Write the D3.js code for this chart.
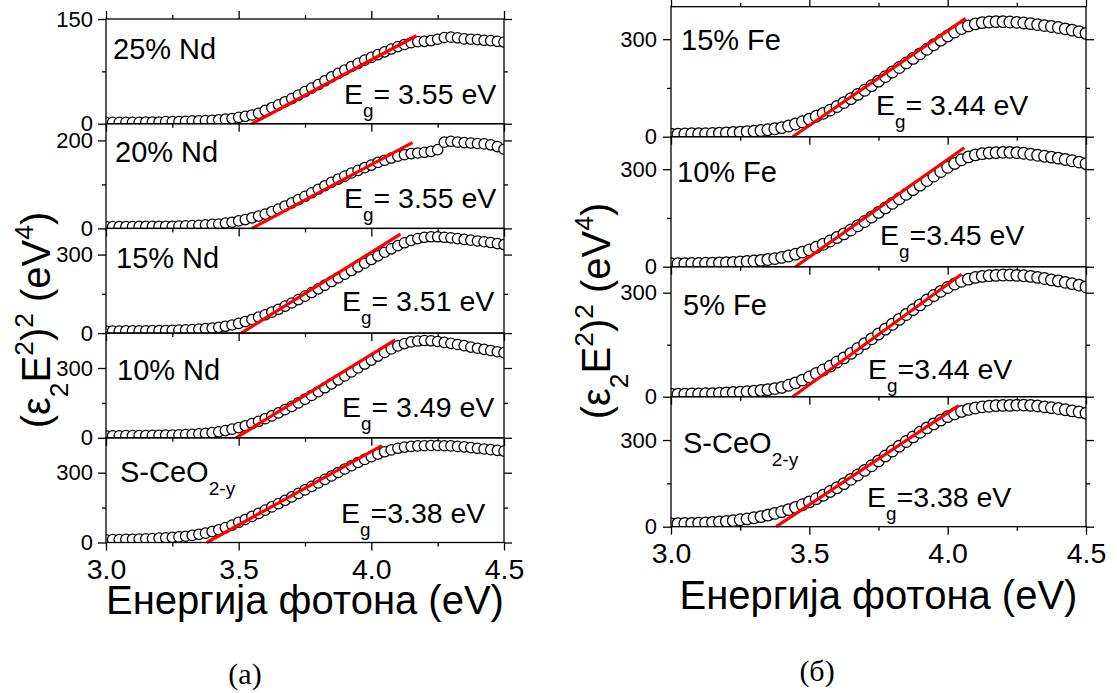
<!DOCTYPE html>
<html><head><meta charset="utf-8">
<script src="https://cdn.jsdelivr.net/npm/d3@7"></script>
<style>body{margin:0;background:#fff}svg{display:block}</style>
</head><body>
<svg id="chart" width="1117" height="693"></svg>
<script>
// ---------------- DATA ----------------
const energy = [3.000,3.025,3.050,3.075,3.100,3.125,3.150,3.175,3.200,3.225,3.250,3.275,3.300,3.325,3.350,3.375,3.400,3.425,3.450,3.475,3.500,3.525,3.550,3.575,3.600,3.625,3.650,3.675,3.700,3.725,3.750,3.775,3.800,3.825,3.850,3.875,3.900,3.925,3.950,3.975,4.000,4.025,4.050,4.075,4.100,4.125,4.150,4.175,4.200,4.225,4.250,4.275,4.300,4.325,4.350,4.375,4.400,4.425,4.450,4.475,4.500];

const nd25 = [2,2,2,2,2,2,2.5,2.5,2.5,3,3,3,3.5,4,4,4.5,5,5.5,6.5,7.5,9,10.5,12.5,15,19,23,27,31.5,36,41,46,51,56,61.5,67,72,77,82,86.5,91,95,99,103,107,110.5,113.5,116,117.5,118,119,121,123.5,124,123,121.5,121,120.5,119.5,119,118,117];
const nd20 = [4,4,4,4,4,4.5,4.5,4.5,5,5,5,5.5,6,6.5,7,8,9,10,12,14,17,20,24,28,32.5,38,44,51,58,65.5,73,81,89,97,105,112,119,126,132,138,144,150,155,160,164,167.5,170,171.5,173,175,179,196,198,196,195,194,193,192,190,186,180];
const nd15 = [8,8,8,8.5,8.5,9,9,9.5,10,10,11,11.5,12.5,13.5,15,17,19,22,26,31,37,44,52,61,70,80,91,103,115,128,141,155,169,183,197,211,225,239,253,267,281,295,309,322,334,345,354,361,366,368,368,366,364,361,358,355,352,349,346,342,338];
const nd10 = [9,9,9,9.5,9.5,10,10,10.5,11,11.5,12,13,14,15,17,19,22,26,31,37,44,52,61,71,82,94,107,121,135,150,166,182,198,215,232,249,266,283,300,317,334,351,367,382,395,405,412,416,418,417,414,410,406,401,396,390,385,380,375,370,366];
const ceoA = [12,12.5,13,13.5,14,15,16,17,18.5,20,22,24,27,30.5,35,40,47,55,64,75,87,99,112,125,139,153,167,181,196,211,226,241,256,271,286,301,316,330,344,357,369,380,390,398,405,410,413,415,416,417,417,416,415,413,411,408,405,402,399,396,393];

const fe15 = [8,8,8.5,9,9,9.5,10,11,12,13,14,15.5,17,19,21.5,24.5,28,33,39,46,54,63,72,82,93,105,117,130,143,157,171,185,199,213,227,241,255,269,283,297,310,322,333,341,347,351,353,354,354,353,352,350,348,345,342,339,336,332,328,323,318];
const fe10 = [9,9,9.5,10,10,10.5,11,12,12.5,13.5,14.5,16,17.5,19.5,22,25,28.5,33,38.5,45,52,60,69,79,90,101,113,126,139,153,167,181,195,209,223,237,251,265,279,293,306,318,329,338,344,348,350,351,352,352,351,349,346,343,340,337,334,330,326,322,317];
const fe5 = [7,7,7.5,8,8,8.5,9,10,11,12,13,14.5,16,18,20.5,23.5,27,33,40,48,57,67,77,88,100,112,125,139,153,167,181,195,209,223,237,251,265,279,292,304,315,325,333,339,344,347,349,350,351,351,350,349,347,344,341,337,334,330,326,322,317];
const ceoB = [10,10.5,11,11.5,12.5,13.5,15,16.5,18.5,21,24,27,31,35,40,46,52,59,67,76,86,97,109,122,135,149,164,179,195,211,228,245,262,279,295,311,327,342,356,369,381,391,399,406,411,415,417,419,420,420,421,421,420,418,415,412,409,405,401,397,393];

// sample names, band gaps (text) and linear-fit endpoints [E0, E1, value at E1]
const leftNames = ["25% Nd","20% Nd","15% Nd","10% Nd","S-CeO"];
const leftEg = ["= 3.55 eV","= 3.55 eV","= 3.51 eV","= 3.49 eV","=3.38 eV"];
const leftFit = [[3.55,4.17,126],[3.55,4.155,195],[3.51,4.11,378],[3.49,4.09,421],[3.38,4.04,416]];
const leftYMax = [150,238,400,450,450];
const leftYMajor = [[0,150],[0,200],[0,300],[0,300],[0,300]];
const leftYMinor = [[75],[100],[150],[150],[150]];

const rightNames = ["15% Fe","10% Fe","5% Fe","S-CeO"];
const rightEg = ["= 3.44 eV","=3.45 eV","=3.44 eV","=3.38 eV"];
const rightFit = [[3.44,4.065,364],[3.45,4.06,366],[3.44,4.05,353],[3.38,4.04,419]];
const rightYMax = [400,400,375,450];
const rightYMajor = [[0,300],[0,300],[0,300],[0,300]];
const rightYMinor = [[150],[150],[150],[150]];

const xMajor = [3.0,3.5,4.0,4.5];
const xMinor = [3.25,3.75,4.25];
const xTitle = "Енергија фотона (eV)";
const panelTags = ["(a)","(б)"];

// ---------------- LAYOUT ----------------
const FONT = "'Liberation Sans', Arial, sans-serif";
const SERIF = "'Liberation Serif', 'Times New Roman', serif";
const svg = d3.select("#chart");

function rich(sel, x, y, size, segs, anchor) {
  const t = sel.append("text").attr("x", x).attr("y", y)
    .attr("font-size", size).attr("font-family", FONT)
    .attr("text-anchor", anchor || "start").attr("fill", "#000");
  let cur = 0;
  segs.forEach(([str, mode]) => {
    const target = mode === "sub" ? size * 0.45 : mode === "sup" ? -size * 0.42 : 0;
    const ts = t.append("tspan").attr("dy", target - cur).text(str);
    if (mode !== "base") ts.attr("font-size", size * 0.66);
    cur = target;
  });
  return t;
}

function drawStack(cfg) {
  const x = d3.scaleLinear().domain([3.0, 4.5]).range([cfg.x0, cfg.x1]);
  const n = cfg.series.length;
  const root = svg.append("g");
  const axesLayer = svg.append("g");
  cfg.series.forEach((vals, i) => {
    const top = cfg.top + i * cfg.h, bot = top + cfg.h;
    const y = d3.scaleLinear().domain([0, cfg.ymax[i]]).range([bot, top]);
    const g = root.append("g");
    const cid = cfg.id + "clip" + i;
    g.append("clipPath").attr("id", cid).append("rect")
      .attr("x", cfg.x0).attr("y", top).attr("width", cfg.x1 - cfg.x0).attr("height", cfg.h);
    g.append("g").attr("clip-path", `url(#${cid})`)
      .selectAll("circle").data(vals).join("circle")
      .attr("cx", (d, j) => x(energy[j])).attr("cy", d => y(d)).attr("r", cfg.r)
      .attr("fill", "#fff").attr("stroke", "#000").attr("stroke-width", 1.25);
    const f = cfg.fit[i];
    g.append("line").attr("x1", x(f[0])).attr("y1", y(0)).attr("x2", x(f[1])).attr("y2", y(f[2]))
      .attr("stroke", "#ff0000").attr("stroke-width", 3.2).attr("stroke-linecap", "butt");
    g.append("rect").attr("x", cfg.x0).attr("y", top).attr("width", cfg.x1 - cfg.x0).attr("height", cfg.h)
      .attr("fill", "none").attr("stroke", "#000").attr("stroke-width", 1.3);

    // labels
    const L = cfg.labelPos[i];
    const nameSegs = cfg.names[i] === "S-CeO" ? [["S-CeO","base"],["2-y","sub"]] : [[cfg.names[i],"base"]];
    rich(g, L[0], L[1], 29, nameSegs);
    const E = cfg.egPos[i];
    rich(g, E[0], E[1], 28.5, [["E","base"],["g","sub"],[cfg.eg[i],"base"]]);

    // axes
    const ax = axesLayer.append("g");
    const yl = ax.append("g").attr("transform", `translate(${cfg.x0},0)`)
      .call(d3.axisLeft(y).tickValues(cfg.yMajor[i]).tickSize(8).tickPadding(cfg.yPad).tickFormat(d3.format("d")));
    ax.append("g").attr("transform", `translate(${cfg.x0},0)`)
      .call(d3.axisLeft(y).tickValues(cfg.yMinor[i]).tickSize(4).tickFormat(""));
    ax.append("g").attr("transform", `translate(${cfg.x1},0)`)
      .call(d3.axisRight(y).tickValues(cfg.yMajor[i]).tickSize(8).tickFormat(""));
    ax.append("g").attr("transform", `translate(${cfg.x1},0)`)
      .call(d3.axisRight(y).tickValues(cfg.yMinor[i]).tickSize(4).tickFormat(""));
    const last = i === n - 1;
    ax.append("g").attr("transform", `translate(0,${bot})`)
      .call(d3.axisBottom(x).tickValues(xMajor).tickSize(8).tickPadding(8.5)
        .tickFormat(last ? d3.format(".1f") : ""));
    ax.append("g").attr("transform", `translate(0,${bot})`)
      .call(d3.axisBottom(x).tickValues(xMinor).tickSize(4).tickFormat(""));
    if (i === 0) {
      ax.append("g").attr("transform", `translate(0,${top})`)
        .call(d3.axisTop(x).tickValues(xMajor).tickSize(8).tickFormat(""));
      ax.append("g").attr("transform", `translate(0,${top})`)
        .call(d3.axisTop(x).tickValues(xMinor).tickSize(4).tickFormat(""));
    }
    yl.selectAll("text").attr("font-size", 22);
    ax.selectAll("text").attr("font-family", FONT).attr("fill", "#000");
    if (last) ax.selectAll("g.tick text").filter(function(){ return this.textContent.indexOf(".") > 0; })
      .attr("font-size", 28.5);
  });
  axesLayer.selectAll(".domain").remove();
  axesLayer.selectAll(".tick line").attr("stroke", "#000").attr("stroke-width", 1.3);

  const bottom = cfg.top + n * cfg.h;
  // x title
  svg.append("text").attr("x", (cfg.x0 + cfg.x1) / 2).attr("y", bottom + cfg.xTitleDy)
    .attr("text-anchor", "middle").attr("font-family", FONT).attr("font-size", 40).text(xTitle);
  // y title
  const yt = svg.append("g").attr("transform", `translate(${cfg.yTitleX},${cfg.yTitleY}) rotate(-90)`);
  rich(yt, 0, 0, 40, [["(ε","base"],["2","sub"],["E","base"],["2","sup"],[")","base"],["2","sup"],[" (eV","base"],["4","sup"],[")","base"]], "middle");
  // panel tag
  svg.append("text").attr("x", cfg.tagX).attr("y", cfg.tagY).attr("text-anchor", "middle")
    .attr("font-family", SERIF).attr("font-size", 30).text(cfg.tag);
}

drawStack({
  id: "L", x0: 106, x1: 504, top: 19, h: 104.7, r: 5.2, yPad: 5,
  series: [nd25, nd20, nd15, nd10, ceoA], ymax: leftYMax, yMajor: leftYMajor, yMinor: leftYMinor,
  fit: leftFit, names: leftNames, eg: leftEg,
  labelPos: [[113,59.3],[115,162.3],[116,268.3],[117,380],[120,481.7]],
  egPos: [[344,104.3],[344,208.3],[342,311],[342,417.3],[341,523.3]],
  xTitleDy: 71, yTitleX: 50, yTitleY: 320, tagX: 245, tagY: 684, tag: panelTags[0]
});
drawStack({
  id: "R", x0: 671, x1: 1086, top: 6.7, h: 130, r: 5.8, yPad: 6,
  series: [fe15, fe10, fe5, ceoB], ymax: rightYMax, yMajor: rightYMajor, yMinor: rightYMinor,
  fit: rightFit, names: rightNames, eg: rightEg,
  labelPos: [[681,50],[677,181.7],[683,314.7],[683,453.3]],
  egPos: [[876,115],[880,245],[868,378.7],[867,506.7]],
  xTitleDy: 82, yTitleX: 610, yTitleY: 311, tagX: 817, tagY: 681, tag: panelTags[1]
});
</script>
</body></html>
